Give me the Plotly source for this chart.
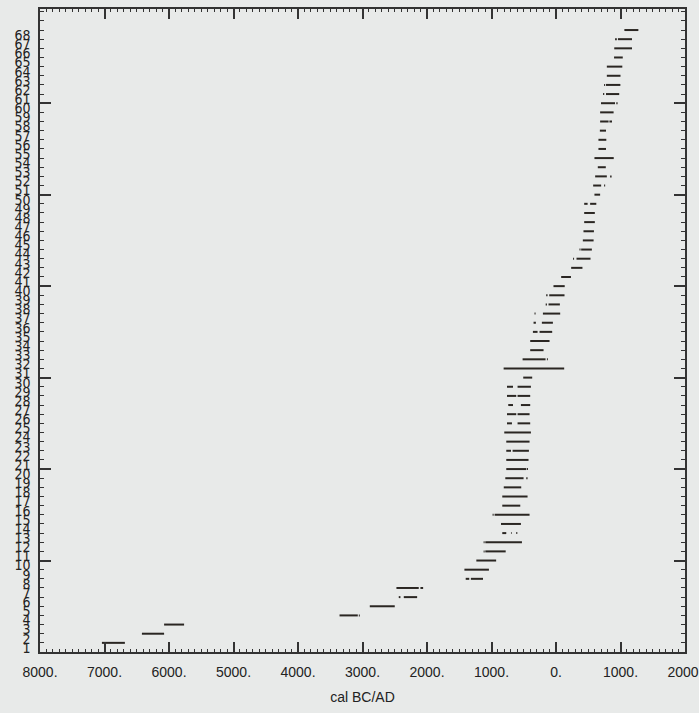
import plotly.graph_objects as go

# Sample numbers (y axis labels)
samples = list(range(1, 69))
sample_labels = [str(s) for s in samples]

# Calibrated age ranges (cal BC negative / AD positive), one entry per segment
seg_sample = [1, 2, 3, 4, 4, 5, 6, 6, 7, 7,
              8, 8, 9, 10, 11, 11, 12, 12, 13, 13, 13,
              14, 15, 15, 16, 17, 18, 19, 19, 20, 20,
              21, 22, 22, 23, 24, 25, 25, 26, 26, 27, 27,
              28, 28, 29, 29, 30, 31, 32, 32, 33, 34,
              35, 35, 36, 36, 37, 37, 38, 38, 39, 39,
              40, 41, 42, 43, 43, 44, 44, 45, 46, 47, 48,
              49, 49, 50, 51, 51, 52, 52, 53, 54, 55, 56, 57,
              58, 58, 59, 60, 60, 61, 61, 62, 62, 63, 64, 65,
              66, 67, 67, 68]
seg_from = [-7040, -6420, -6076, -3356, -3057, -2887, -2438, -2360, -2474, -2102,
            -1400, -1320, -1420, -1235, -1122, -1096, -1122, -1096, -833, -698, -616,
            -853, -983, -952, -833, -833, -810, -786, -461, -771, -451,
            -771, -771, -673, -771, -802, -760, -596, -760, -596, -740, -544,
            -760, -596, -760, -596, -508, -812, -518, -141, -400, -400,
            -358, -255, -348, -219, -333, -203, -160, -116, -152, -105,
            -39, 80, 235, 265, 318, 364, 390, 416, 426, 437, 437,
            437, 529, 596, 576, 746, 607, 839, 648, 596, 658, 658, 680,
            684, 828, 684, 698, 935, 730, 775, 746, 775, 788, 788, 900,
            903, 916, 960, 1060]
seg_to = [-6684, -6076, -5766, -3073, -3042, -2500, -2412, -2153, -2128, -2060,
          -1345, -1132, -1040, -928, -1107, -780, -1107, -528, -771, -688, -600,
          -544, -967, -410, -554, -441, -539, -503, -441, -461, -435,
          -426, -698, -420, -410, -389, -683, -400, -616, -410, -667, -400,
          -616, -400, -667, -389, -369, 127, -162, -126, -193, -100,
          -286, -59, -312, -48, -317, 65, -141, 60, -131, 132,
          135, 232, 410, 280, 535, 380, 556, 583, 588, 602, 602,
          490, 625, 684, 700, 762, 788, 862, 772, 895, 775, 780, 775,
          815, 868, 893, 915, 955, 748, 980, 762, 998, 1000, 1028, 1035,
          1178, 943, 1178, 1277]

# x tick labels
x_tickvals = [-8000, -7000, -6000, -5000, -4000, -3000, -2000, -1000, 0, 1000, 2000]
x_ticktext = ["8000.", "7000.", "6000.", "5000.", "4000.", "3000.", "2000.",
              "1000.", "0.", "1000.", "2000."]
major_y_ticks = [10, 20, 30, 40, 50, 60]

xs, ys = [], []
for s, a, b in zip(seg_sample, seg_from, seg_to):
    xs += [a, b, None]
    ys += [s, s, None]

ink = "#2a2622"
bg = "#e8eae9"

fig = go.Figure()
fig.add_trace(go.Scatter(x=xs, y=ys, mode="lines",
                         line=dict(color=ink, width=2),
                         showlegend=False, hoverinfo="skip"))
fig.add_trace(go.Scatter(x=[None], y=[None], yaxis="y2", mode="lines",
                         showlegend=False, hoverinfo="skip"))

fig.update_layout(
    width=699, height=713,
    paper_bgcolor=bg, plot_bgcolor=bg,
    margin=dict(l=40, r=14, t=9, b=61, autoexpand=False),
    font=dict(family="Liberation Sans, Arial, sans-serif", color="#222"),
    xaxis=dict(
        range=[-8000, 2000], tickmode="array",
        tickvals=x_tickvals, ticktext=x_ticktext,
        ticks="inside", ticklen=10, tickwidth=1.5, tickcolor="#333",
        showline=True, linecolor="#333", linewidth=1.5, mirror="ticks",
        showgrid=False, zeroline=False, automargin=False,
        ticklabeloverflow="allow",
        tickfont=dict(size=14, color="#222"),
        ticklabelstandoff=6,
        minor=dict(tickmode="array",
                   tickvals=list(range(-8000, 2001, 100)),
                   ticks="inside", ticklen=3.5, tickwidth=1.2,
                   tickcolor="#333", showgrid=False),
        title=dict(text="cal BC/AD", font=dict(size=14, color="#222"), standoff=14),
    ),
    yaxis=dict(
        range=[0, 70.3], tickmode="array",
        tickvals=samples, ticktext=sample_labels,
        ticks="inside", ticklen=4, tickwidth=1.2, tickcolor="#333",
        showline=True, linecolor="#333", linewidth=1.5, mirror="ticks",
        showgrid=False, zeroline=False, automargin=False,
        tickfont=dict(size=14, family="Liberation Sans Narrow, DejaVu Sans Condensed, Arial Narrow, sans-serif", color="#222"),
        ticklabelstandoff=5, ticklabelshift=5,
        minor=dict(tickmode="array", tickvals=[69, 70], ticks="inside",
                   ticklen=4, tickwidth=1.2, tickcolor="#333", showgrid=False),
    ),
    yaxis2=dict(
        overlaying="y", matches="y", side="left",
        tickmode="array", tickvals=major_y_ticks,
        ticks="inside", ticklen=11, tickwidth=1.5, tickcolor="#333",
        showticklabels=False, showline=False, mirror="ticks",
        showgrid=False, zeroline=False, automargin=False,
    ),
)

fig.write_html(
    "out.html",
    config={"displayModeBar": False},
    post_script="document.body.style.margin='0';document.body.style.background='%s';" % bg,
)
